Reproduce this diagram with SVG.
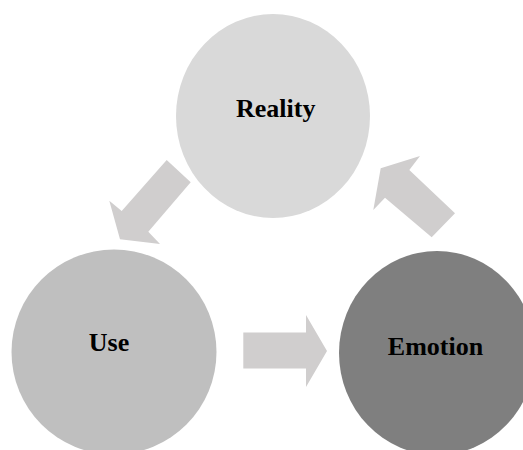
<svg xmlns="http://www.w3.org/2000/svg" width="523" height="450" viewBox="0 0 523 450">
<style>
.arrow{fill:#d0cece;stroke:none}
.label{font-family:"Liberation Serif","Times New Roman",serif;font-weight:bold;font-size:26px;fill:#000;text-anchor:middle}
</style>
<rect width="523" height="450" fill="#fff"/>
<g id="connectors">
<polygon class="arrow" points="166.7,160 190.7,182.3 148.3,231.7 160,244 120,239.3 109.3,200.7 121.7,211"/>
<polygon class="arrow" points="243.3,332.5 306,332.5 306,315 327,351 306,387 306,368.5 243.3,368.5"/>
<polygon class="arrow" points="380.7,168.3 420,156 409.3,170 455,213.3 431.7,237.3 385,197.7 373.3,210"/>
</g>
<g id="reality">
<ellipse cx="273" cy="116" rx="97" ry="102" fill="#d9d9d9"/>
<text class="label" x="275.7" y="116.7">Reality</text>
</g>
<g id="use">
<circle cx="114" cy="352" r="102.5" fill="#bfbfbf"/>
<text class="label" x="109" y="350.7">Use</text>
</g>
<g id="emotion">
<ellipse cx="437" cy="353" rx="98" ry="102" fill="#7f7f7f"/>
<text class="label" x="435.5" y="355">Emotion</text>
</g>
</svg>
